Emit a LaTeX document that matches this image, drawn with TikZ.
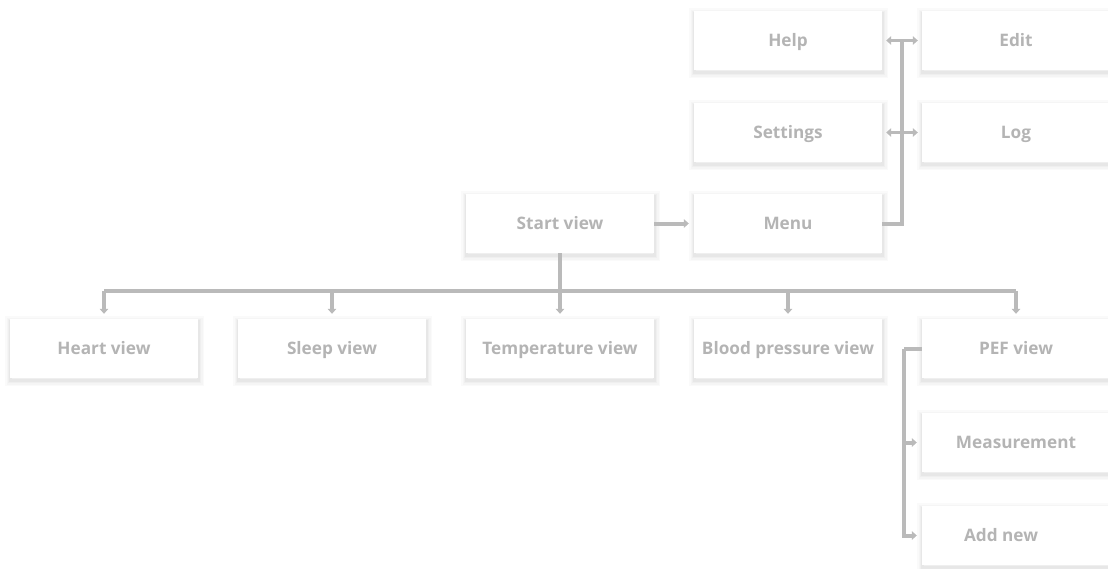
\documentclass[tikz,border=0pt]{standalone}
\usepackage{fontspec}
\setmainfont{Open Sans}
\usetikzlibrary{arrows.meta,calc}
\definecolor{boxtext}{RGB}{180,180,180}
\definecolor{wire}{RGB}{186,186,186}
\newcommand{\cardfont}{\bfseries\fontsize{17.2}{20}\selectfont}
\tikzset{
  % one ring of a soft drop shadow: stroke width, opacity
  shadering/.style 2 args={preaction={draw=black, draw opacity=#2, line width=#1,
      transform canvas={xshift=0.5pt, yshift=-2.5pt}}},
  card/.style={rectangle, fill=white, minimum width=188pt, minimum height=59pt,
    inner sep=0pt, text height=14pt, text depth=2pt, font=\cardfont, text=boxtext,
    shadering={11pt}{0.018}, shadering={8pt}{0.02}, shadering={5pt}{0.025},
    shadering={2.5pt}{0.03}},
  lbl/.style={font=\cardfont, text=boxtext, inner sep=0pt, text height=14pt, text depth=2pt},
  wirel/.style={draw=wire, line width=4pt},
  tip/.style={wirel, -{Triangle[width=8.5pt,length=5pt]}, shorten >=5pt},
  both/.style={wirel, {Triangle[width=8.5pt,length=5pt]}-{Triangle[width=8.5pt,length=5pt]},
    shorten >=4pt, shorten <=4pt, line width=3pt}
}
\begin{document}
\begin{tikzpicture}[x=1pt, y=-1pt]
\useasboundingbox[fill=white] (0,0) rectangle (1108,568);

% upper right: menu entries
\node[card] (help) at (788,40.5) {Help};
\node[card] (edit) at (1016,40.5) {Edit};
\node[card] (settings) at (788,132.5) {Settings};
\node[card] (log) at (1016,132.5) {Log};
\node[card] (start) at (560,223.5) {Start view};
\node[card] (menu) at (788,223.5) {Menu};

% row of views
\node[card] (heart) at (104,348.5) {Heart view};
\node[card] (sleep) at (332,348.5) {Sleep view};
\node[card] (temp) at (560,348.5) {Temperature view};
\node[card] (blood) at (788,348.5) {Blood pressure view};
\node[card] (pef) at (1016,348.5) {PEF view};

% PEF sub views
\node[card] (meas) at (1016,442.5) {Measurement};
\node[card, label={[lbl, xshift=-15pt]center:Add new}] (addnew) at (1016,535.5) {};

% helper points for the wiring
\coordinate (mtop) at (902,40.5);
\coordinate (bus) at (560,291);
\coordinate (pefx) at (904,348.5);

% start view to menu
\draw[tip] (start.east) -- (menu.west);

% menu branch with double arrows
\draw[wirel] (menu.east) -| (mtop);
\draw[both] (help.east) -- (edit.west);
\draw[both] (settings.east) -- (log.west);

% start view down to the row
\draw[wirel] (start.south) -- (bus);
\draw[wirel] (heart.north |- bus) -- (pef.north |- bus);
\foreach \n in {heart,sleep,temp,blood,pef}
  \draw[tip] (\n.north |- bus) -- (\n.north);

% PEF sub views
\draw[wirel] (pef.west) -- (pefx);
\draw[tip] (pefx) |- (addnew.west);
\draw[tip] (pefx |- meas.west) -- (meas.west);
\end{tikzpicture}
\end{document}
